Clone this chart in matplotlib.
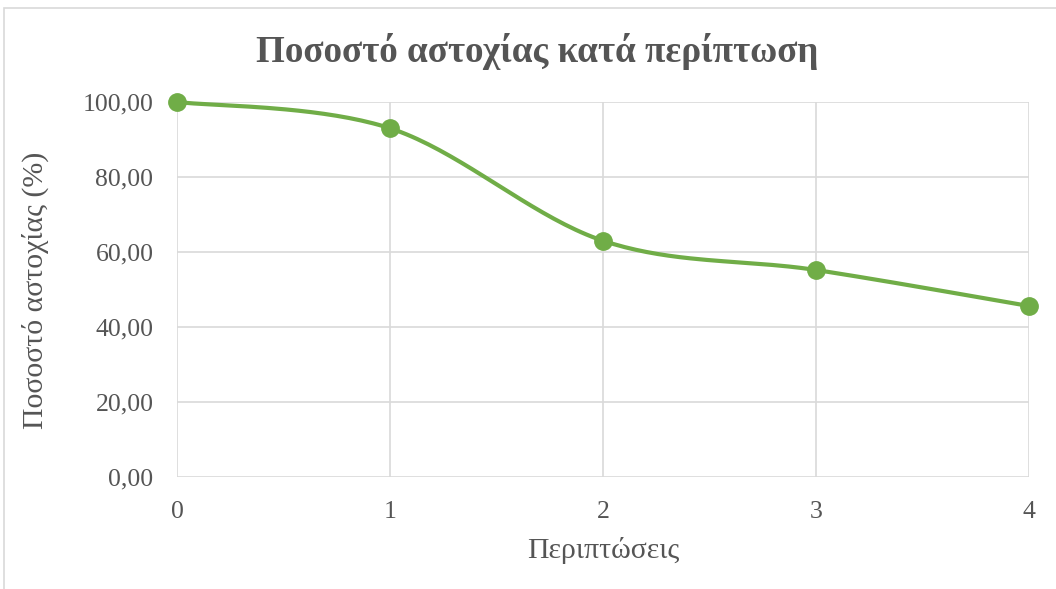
import numpy as np
import matplotlib
matplotlib.use('Agg')
import matplotlib.pyplot as plt
from matplotlib.patches import Rectangle

plt.rcParams['font.family'] = ['Liberation Serif', 'DejaVu Serif']

cases = [0, 1, 2, 3, 4]
failure_pct = [100.0, 93.0, 63.0, 55.2, 45.6]
y_ticks = [0, 20, 40, 60, 80, 100]
y_tick_labels = ['0,00', '20,00', '40,00', '60,00', '80,00', '100,00']

title = 'Ποσοστό αστοχίας κατά περίπτωση'
xlabel = 'Περιπτώσεις'
ylabel = 'Ποσοστό αστοχίας (%)'

green = '#70ad47'
grid_c = '#d9d9d9'
text_c = '#555555'


def smooth(x, y, n=40):
    # excel-like smoothed line (catmull-rom as cubic bezier)
    p = np.column_stack([x, y]).astype(float)
    out = []
    for i in range(len(p) - 1):
        p0 = p[i - 1] if i > 0 else p[i]
        p1 = p[i]
        p2 = p[i + 1]
        p3 = p[i + 2] if i + 2 < len(p) else p[i + 1]
        c1 = p1 + (p2 - p0) / 6
        c2 = p2 - (p3 - p1) / 6
        t = np.linspace(0, 1, n)[:, None]
        seg = ((1 - t) ** 3) * p1 + 3 * ((1 - t) ** 2) * t * c1 + 3 * (1 - t) * t ** 2 * c2 + t ** 3 * p2
        out.append(seg if i == 0 else seg[1:])
    s = np.vstack(out)
    return s[:, 0], s[:, 1]


fig = plt.figure(figsize=(10.56, 5.89), dpi=100)
fig.patches.append(Rectangle((4 / 1056, -0.1), 1.2, 1 - 8 / 589 + 0.1, transform=fig.transFigure,
                             fill=False, edgecolor=grid_c, linewidth=1.2))

ax = fig.add_axes([177 / 1056, 1 - 477 / 589, (1029 - 177) / 1056, (477 - 102) / 589])
sx, sy = smooth(cases, failure_pct)
ax.plot(sx, sy, color=green, linewidth=3.0, solid_capstyle='round', zorder=3, clip_on=False)
ax.plot(cases, failure_pct, 'o', color=green, markersize=12.5, zorder=4, clip_on=False)

ax.set_xlim(0, 4)
ax.set_ylim(0, 100)
ax.set_xticks(cases)
ax.set_yticks(y_ticks)
ax.set_yticklabels(y_tick_labels)
ax.grid(True, color=grid_c, linewidth=1.2)
ax.set_axisbelow(True)
for s in ax.spines.values():
    s.set_visible(False)
ax.tick_params(length=0, labelsize=18.5, labelcolor=text_c)
ax.tick_params(axis='y', pad=17)
ax.tick_params(axis='x', pad=17)

fig.text(603 / 1056, 1 - 550 / 589, xlabel, fontsize=21.5, color=text_c, ha='center', va='center')
fig.text(35 / 1056, 1 - 290 / 589, ylabel, fontsize=21.5, color=text_c, ha='center', va='center',
         rotation=90)
fig.text(537 / 1056, 1 - 52 / 589, title, fontsize=26.7, fontweight='bold', color=text_c,
         ha='center', va='center')

fig.savefig('out.png', dpi=100)
